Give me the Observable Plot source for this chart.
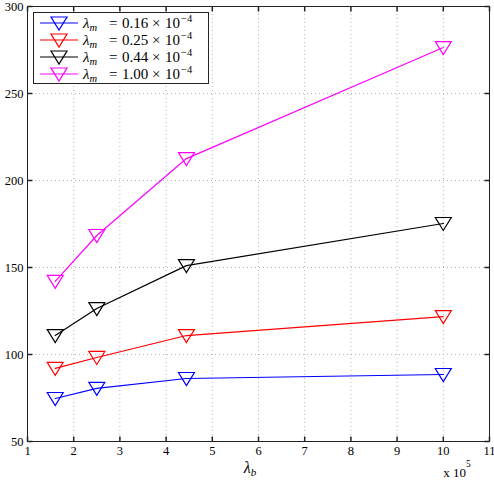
<!DOCTYPE html>
<html><head><meta charset="utf-8">
<script src="https://cdn.jsdelivr.net/npm/d3@7"></script>
<script src="https://cdn.jsdelivr.net/npm/@observablehq/plot@0.6"></script>
<style>
body{margin:0;background:#fff;}
#wrap{position:relative;width:494px;height:480px;overflow:hidden;}
#legend{position:absolute;left:33px;top:12px;}
</style></head><body><div id="wrap"></div>
<script>
// ---- data ----
const xValues = [1.6, 2.5, 4.44, 10];            // lambda_b (x 10^5)
const seriesLabels = ["0.16", "0.25", "0.44", "1.00"];   // lambda_m (x 10^-4)
const seriesColors = ["#0000ff", "#ff0000", "#000000", "#ff00ff"];
const delta016 = [74.7, 80.5, 86.2, 88.5];
const delta025 = [92.0, 98.3, 110.9, 121.8];
const delta044 = [110.9, 126.4, 151.1, 175.3];
const delta100 = [142.0, 168.4, 212.6, 276.4];
const xTicks = [1, 2, 3, 4, 5, 6, 7, 8, 9, 10, 11];
const yTicks = [50, 100, 150, 200, 250, 300];

const seriesValues = [delta016, delta025, delta044, delta100];
const rows = seriesValues.flatMap((vals, i) =>
  vals.map((v, j) => ({x: xValues[j], y: v, s: seriesLabels[i]})));

// ---- symbols ----
const triDown = {draw(ctx) { ctx.moveTo(-8, -6); ctx.lineTo(8, -6); ctx.lineTo(0, 7); ctx.closePath(); }};
const tickUp = {draw(ctx) { ctx.moveTo(0, 0); ctx.lineTo(0, -5); }};
const tickDown = {draw(ctx) { ctx.moveTo(0, 0); ctx.lineTo(0, 5); }};
const tickRight = {draw(ctx) { ctx.moveTo(0, 0); ctx.lineTo(5, 0); }};
const tickLeft = {draw(ctx) { ctx.moveTo(0, 0); ctx.lineTo(-5, 0); }};

const font = "'Liberation Serif', 'DejaVu Serif', serif";

const chart = Plot.plot({
  width: 494,
  height: 480,
  marginLeft: 27,
  marginRight: 5,
  marginTop: 6,
  marginBottom: 39,
  style: {fontFamily: font, fontSize: "12.5px", background: "white", color: "#000"},
  x: {domain: [1, 11], ticks: xTicks},
  y: {domain: [50, 300], ticks: yTicks},
  color: {type: "ordinal", domain: seriesLabels, range: seriesColors},
  marks: [
    Plot.gridX(xTicks, {stroke: "#b4b4b4", strokeOpacity: 1, strokeDasharray: "1,3"}),
    Plot.gridY(yTicks, {stroke: "#b4b4b4", strokeOpacity: 1, strokeDasharray: "1,3"}),
    Plot.axisX(xTicks, {tickSize: 0, tickPadding: 5, label: null, fontSize: 12.5}),
    Plot.axisY(yTicks, {tickSize: 0, tickPadding: 4, label: null, fontSize: 12.5}),
    Plot.dot(xTicks, {x: d => d, y: 50, symbol: tickUp, stroke: "#222", fill: "none"}),
    Plot.dot(xTicks, {x: d => d, y: 300, symbol: tickDown, stroke: "#222", fill: "none"}),
    Plot.dot(yTicks, {y: d => d, x: 1, symbol: tickRight, stroke: "#222", fill: "none"}),
    Plot.dot(yTicks, {y: d => d, x: 11, symbol: tickLeft, stroke: "#222", fill: "none"}),
    Plot.frame({stroke: "#222", strokeWidth: 1}),
    Plot.line(rows, {x: "x", y: "y", z: "s", stroke: "s", strokeWidth: 1.2}),
    Plot.dot(rows, {x: "x", y: "y", stroke: "s", symbol: triDown, fill: "none", strokeWidth: 1.2})
  ]
});

const wrap = document.getElementById("wrap");
wrap.appendChild(chart);

// extra axis texts
const svg = d3.select(chart);
const xl = svg.append("text").attr("x", 250).attr("y", 473)
  .style("font-family", font).style("font-size", "16px");
xl.append("tspan").style("font-style", "italic").text("λ");
xl.append("tspan").attr("dy", 3).style("font-size", "11px").style("font-style", "italic").text("b");

const ex = svg.append("text").attr("x", 457).attr("y", 477)
  .style("font-family", font).style("font-size", "13px");
ex.append("tspan").text("x 10");
ex.append("tspan").attr("dy", -10).style("font-size", "9.5px").text("5");

svg.append("text").attr("x", -4).attr("y", 220)
  .style("font-family", font).style("font-size", "13px").style("font-style", "italic").text("δ");

// ---- legend ----
const lg = d3.select(wrap).append("svg").attr("id", "legend")
  .attr("width", 176).attr("height", 72);
lg.append("rect").attr("x", 0.5).attr("y", 0.5).attr("width", 175).attr("height", 71)
  .attr("fill", "white").attr("stroke", "#222").attr("stroke-width", 1);
const rowY = [11, 28, 45, 62];
seriesLabels.forEach((lab, i) => {
  const g = lg.append("g").attr("transform", `translate(0,${rowY[i]})`);
  g.append("line").attr("x1", 7).attr("x2", 45).attr("y1", 0).attr("y2", 0)
    .attr("stroke", seriesColors[i]).attr("stroke-width", 1.2);
  g.append("path").attr("d", "M-8,-6L8,-6L0,7Z").attr("transform", "translate(26,0)")
    .attr("fill", "none").attr("stroke", seriesColors[i]).attr("stroke-width", 1.2);
  const t = g.append("text").attr("y", 5)
    .style("font-family", font).style("font-size", "15px");
  t.append("tspan").attr("x", 50).style("font-style", "italic").text("λ");
  t.append("tspan").attr("dy", 3).style("font-size", "10.5px").style("font-style", "italic").text("m");
  t.append("tspan").attr("x", 76).attr("dy", -3).text("=");
  t.append("tspan").attr("x", 89).text(lab);
  t.append("tspan").attr("x", 119).text("×");
  t.append("tspan").attr("x", 132).text("10");
  t.append("tspan").attr("x", 148).attr("dy", -6).style("font-size", "10.5px").text("−4");
});
</script>
</body></html>
